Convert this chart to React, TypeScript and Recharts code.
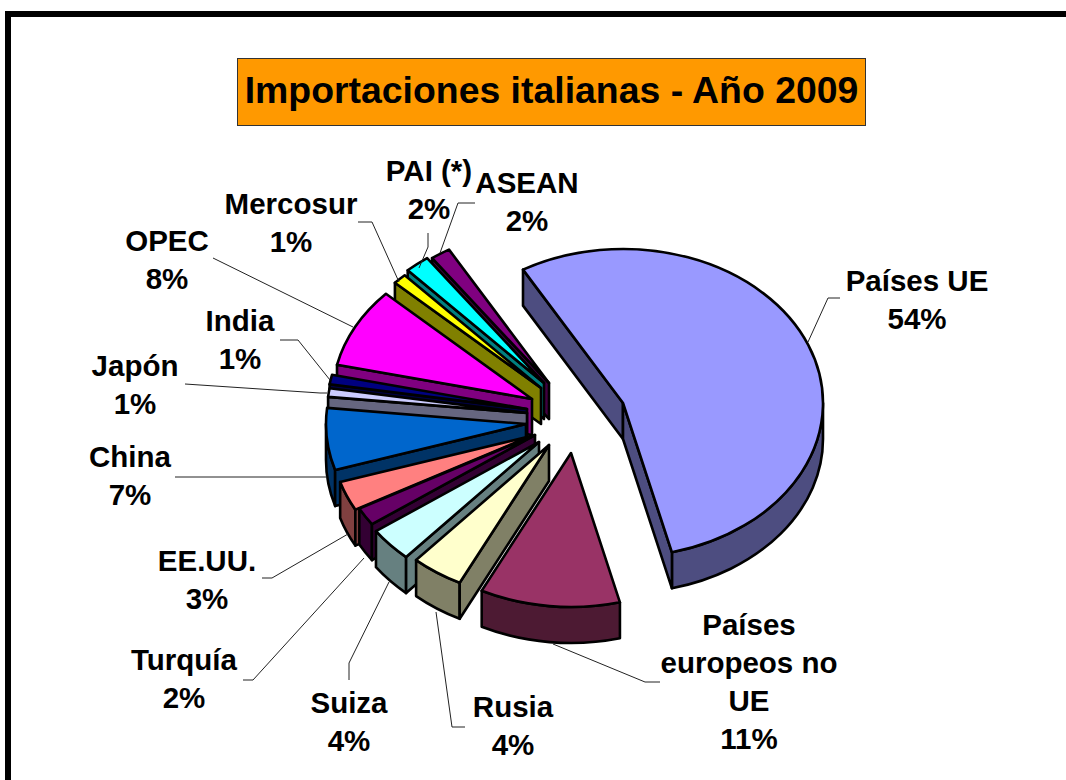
import { Pie, PieChart } from "recharts";

// clockwise from the cut at the upper left, same order as the original labels
const countries = ["Países UE", "Países europeos no UE", "Rusia", "Suiza", "Turquía", "EE.UU.", "China", "Japón", "India", "OPEC", "Mercosur", "PAI (*)", "ASEAN"];
const shares = [54.4, 11.3, 4.2, 3.6, 1.9, 3.1, 6.5, 0.9, 1.0, 8.4, 1.1, 2.0, 1.6];
const topColors = ["#9999FF", "#993366", "#FFFFCC", "#CCFFFF", "#660066", "#FF8080", "#0066CC", "#CCCCFF", "#000080", "#FF00FF", "#FFFF00", "#00FFFF", "#800080"];
const wallColors = ["#4D4D80", "#4D1A33", "#808066", "#668080", "#330033", "#804040", "#003366", "#666680", "#000040", "#800080", "#808000", "#008080", "#400040"];

const CENTER_X = 525;
const CENTER_Y = 410;
const RADIUS = 200;
const SQUASH = 0.77;
const DEPTH = 36;

// how far each slice is pulled out of the pie
const explode: Record<string, [number, number]> = {
  "Países UE": [98, -7],
  "Países europeos no UE": [46, 43],
  Rusia: [24, 35],
  Suiza: [14, 32],
  Turquía: [10, 25],
  "EE.UU.": [6, 26],
  China: [1, 14],
  Japón: [2, 3],
  India: [2, -1],
  OPEC: [7, -11],
  Mercosur: [16, -22],
  "PAI (*)": [19, -27],
  ASEAN: [24, -27],
};

const labelLayout: Record<string, { x: number; y: number; lines: string[]; leader: string }> = {
  "Países UE": { x: 917, y: 291, lines: ["Países UE"], leader: "840,298 828,298 808,342" },
  "Países europeos no UE": { x: 749, y: 635, lines: ["Países", "europeos no", "UE"], leader: "660,682 645,682 553,644" },
  Rusia: { x: 513, y: 717, lines: ["Rusia"], leader: "465,727 452,727 436,612" },
  Suiza: { x: 349, y: 713, lines: ["Suiza"], leader: "349,680 349,663 389,582" },
  Turquía: { x: 184, y: 670, lines: ["Turquía"], leader: "243,680 253,680 364,558" },
  "EE.UU.": { x: 207, y: 571, lines: ["EE.UU."], leader: "262,578 272,578 348,534" },
  China: { x: 130, y: 467, lines: ["China"], leader: "175,477 327,477" },
  Japón: { x: 135, y: 376, lines: ["Japón"], leader: "185,384 320,393 327,393" },
  India: { x: 240, y: 331, lines: ["India"], leader: "280,340 298,340 330,380" },
  OPEC: { x: 167, y: 251, lines: ["OPEC"], leader: "213,258 353,327" },
  Mercosur: { x: 291, y: 214, lines: ["Mercosur"], leader: "358,222 372,222 399,282" },
  "PAI (*)": { x: 429, y: 181, lines: ["PAI (*)"], leader: "428,233 428,247 419,268" },
  ASEAN: { x: 527, y: 193, lines: ["ASEAN"], leader: "475,203 458,203 440,253" },
};

// back slices first, so the front ones paint over them
const pieData = countries
  .map((name, i) => ({ name, value: shares[i], fill: topColors[i], wall: wallColors[i] }))
  .reverse();

const rad = (deg: number) => (deg * Math.PI) / 180;

function Slice3D(props: any) {
  const { startAngle, endAngle, outerRadius, name, fill, wall } = props;
  const [ox, oy] = explode[name];
  const ax = props.cx + ox;
  const ay = props.cy + oy;
  const rx = outerRadius;
  const ry = outerRadius * SQUASH;
  const lo = Math.min(startAngle, endAngle);
  const hi = Math.max(startAngle, endAngle);
  const p = (deg: number) => `${ax + rx * Math.cos(rad(deg))} ${ay - ry * Math.sin(rad(deg))}`;
  const pd = (deg: number) => `${ax + rx * Math.cos(rad(deg))} ${ay - ry * Math.sin(rad(deg)) + DEPTH}`;
  const big = hi - lo > 180 ? 1 : 0;
  const top = `M${ax} ${ay} L${p(hi)} A${rx} ${ry} 0 ${big} 1 ${p(lo)} Z`;

  const radial = (deg: number) => `M${ax} ${ay} L${p(deg)} L${pd(deg)} L${ax} ${ay + DEPTH} Z`;
  const wallHi = Math.min(hi, 360);
  const wallLo = Math.max(lo, 180);
  const outer =
    wallHi > wallLo
      ? `M${p(wallHi)} A${rx} ${ry} 0 0 1 ${p(wallLo)} L${pd(wallLo)} A${rx} ${ry} 0 0 0 ${pd(wallHi)} Z`
      : null;

  const line = { stroke: "#000", strokeWidth: 2.6, strokeLinejoin: "round" as const };
  return (
    <g>
      {outer && <path d={outer} fill={wall} {...line} />}
      {Math.cos(rad(hi)) < 0 && <path d={radial(hi)} fill={wall} {...line} />}
      {Math.cos(rad(lo)) > 0 && <path d={radial(lo)} fill={wall} {...line} />}
      <path d={top} fill={fill} {...line} />
    </g>
  );
}

function SliceLabel(props: any) {
  const { name, value } = props;
  const layout = labelLayout[name];
  const lines = [...layout.lines, `${Math.round(value)}%`];
  return (
    <g>
      <polyline points={layout.leader} fill="none" stroke="#222" strokeWidth={1} />
      <text x={layout.x} y={layout.y} textAnchor="middle" fontFamily="'Liberation Sans', Arial, sans-serif" fontWeight="bold" fontSize={29.5} fill="#000">
        {lines.map((t, i) => (
          <tspan key={t} x={layout.x} dy={i === 0 ? 0 : 38}>
            {t}
          </tspan>
        ))}
      </text>
    </g>
  );
}

export default function App() {
  return (
    <div style={{ position: "absolute", left: 0, top: 0, width: 1066, height: 780, background: "#fff", overflow: "hidden" }}>
      <div style={{ position: "absolute", left: 5, top: 11, width: 6, height: 769, background: "#000" }} />
      <div style={{ position: "absolute", left: 5, top: 11, width: 1061, height: 6, background: "#000" }} />
      <PieChart width={1066} height={780} margin={{ top: 0, right: 0, bottom: 0, left: 0 }} style={{ position: "absolute", left: 0, top: 0 }}>
        <Pie
          data={pieData}
          dataKey="value"
          nameKey="name"
          cx={CENTER_X}
          cy={CENTER_Y}
          outerRadius={RADIUS}
          startAngle={120}
          endAngle={480}
          shape={Slice3D}
          activeShape={Slice3D}
          inactiveShape={Slice3D}
          label={SliceLabel}
          labelLine={false}
          isAnimationActive={false}
        />
      </PieChart>
      <div
        style={{
          position: "absolute",
          left: 237,
          top: 58,
          width: 627,
          height: 66,
          background: "#FF9900",
          border: "1px solid #333",
          fontFamily: "'Liberation Sans', Arial, sans-serif",
          fontWeight: "bold",
          fontSize: 37.4,
          lineHeight: "63px",
          textAlign: "center",
          color: "#000",
        }}
      >
        Importaciones italianas - Año 2009
      </div>
    </div>
  );
}
